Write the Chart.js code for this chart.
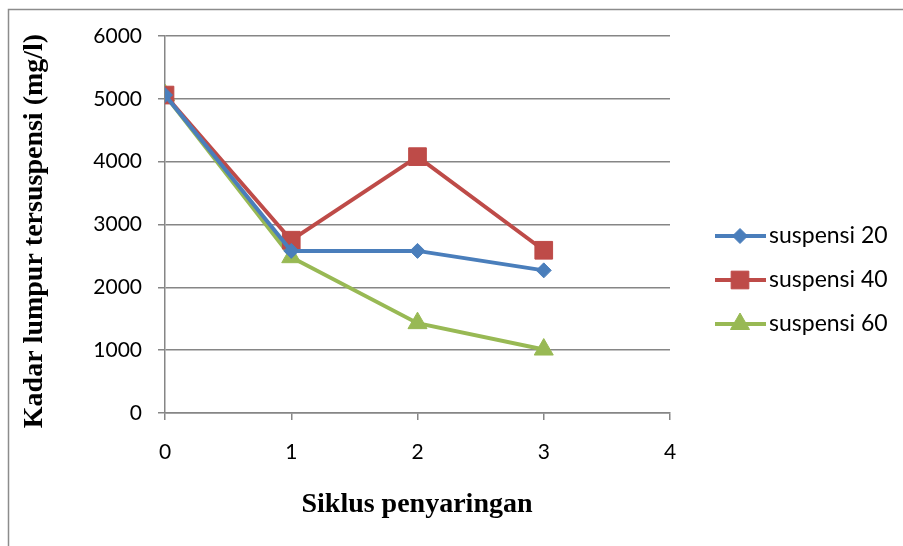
<!DOCTYPE html>
<html>
<head>
<meta charset="utf-8">
<script src="https://cdn.jsdelivr.net/npm/chart.js@4.4.1/dist/chart.umd.min.js"></script>
<style>
  html, body { margin: 0; padding: 0; background: #fff; }
  #wrap { width: 903px; height: 546px; position: relative; }
</style>
</head>
<body>
<div id="wrap"><canvas id="chart"></canvas></div>
<script>
// ===== data =====
const cycles = [0, 1, 2, 3];
const suspensi20 = [5060, 2580, 2580, 2270];
const suspensi40 = [5060, 2750, 4080, 2590];
const suspensi60 = [5060, 2480, 1430, 1010];
const seriesNames = ['suspensi 20', 'suspensi 40', 'suspensi 60'];
const yTicks = [0, 1000, 2000, 3000, 4000, 5000, 6000];
const xTicks = [0, 1, 2, 3, 4];

const colors = ['#4a7ebb', '#be4b48', '#98b954'];
const markers = ['rectRot', 'rect', 'triangle'];
const markerSize = [7.5, 12.5, 11];

function toPoints(vals) {
    return vals.map((v, i) => ({ x: cycles[i], y: v }));
}

const datasets = [suspensi20, suspensi40, suspensi60].map((vals, i) => ({
    label: seriesNames[i],
    data: toPoints(vals),
    borderColor: colors[i],
    backgroundColor: colors[i],
    borderWidth: 4,
    pointStyle: markers[i],
    pointRadius: markerSize[i],
    pointHoverRadius: markerSize[i],
    pointBorderWidth: 1,
    tension: 0
}));

/* ===== frame, axis titles, legend ===== */
const decor = {
    id: 'decor',
    afterDraw(chart) {
        const c = chart.ctx;
        c.save();
        c.strokeStyle = '#8c8c8c';
        c.lineWidth = 1.5;
        c.beginPath();
        c.moveTo(8.5, 560);
        c.lineTo(8.5, 9.5);
        c.lineTo(920, 9.5);
        c.stroke();

        c.fillStyle = '#000';
        c.font = 'bold 28px "Liberation Serif"';
        c.textAlign = 'center';
        c.textBaseline = 'alphabetic';
        c.fillText('Siklus penyaringan', 417, 512);

        c.textBaseline = 'middle';
        c.translate(35, 231);
        c.rotate(-Math.PI / 2);
        c.fillText('Kadar lumpur tersuspensi (mg/l)', 0, 0);
        c.restore();

        c.save();
        chart.data.datasets.forEach((ds, i) => {
            const y = 236 + i * 44;
            c.strokeStyle = ds.borderColor;
            c.fillStyle = ds.backgroundColor;
            c.lineWidth = 4;
            c.beginPath();
            c.moveTo(715, y);
            c.lineTo(766, y);
            c.stroke();
            c.lineWidth = 1;
            Chart.helpers.drawPoint(c, {
                pointStyle: ds.pointStyle,
                radius: ds.pointRadius,
                borderWidth: 1
            }, 740, y);
            c.fillStyle = '#000';
            c.font = '23px Lato';
            c.textAlign = 'left';
            c.textBaseline = 'middle';
            c.fillText(ds.label, 769, y);
        });
        c.restore();
    }
};

new Chart(document.getElementById('chart'), {
    type: 'line',
    data: { datasets },
    options: {
        responsive: true,
        maintainAspectRatio: false,
        animation: false,
        layout: { padding: { left: 10, right: 233, top: 36, bottom: 10 } },
        plugins: {
            legend: { display: false },
            tooltip: { enabled: false }
        },
        scales: {
            x: {
                type: 'linear',
                min: xTicks[0],
                max: xTicks[xTicks.length - 1],
                afterBuildTicks: (s) => { s.ticks = xTicks.map(v => ({ value: v })); },
                afterFit: (s) => { s.height = 546 - 413 - 10; },
                grid: { drawOnChartArea: false, color: '#868686', lineWidth: 1.5, tickLength: 7 },
                border: { color: '#868686', width: 1.5 },
                ticks: { color: '#000', font: { family: 'Lato', size: 21 }, padding: 20, callback: (v) => String(v) }
            },
            y: {
                min: yTicks[0],
                max: yTicks[yTicks.length - 1],
                afterBuildTicks: (s) => { s.ticks = yTicks.map(v => ({ value: v })); },
                afterFit: (s) => { s.width = 165 - 10; },
                grid: { color: '#868686', lineWidth: 1.5, tickLength: 7 },
                border: { color: '#868686', width: 1.5 },
                ticks: { color: '#000', font: { family: 'Lato', size: 21 }, padding: 16, callback: (v) => String(v) }
            }
        }
    },
    plugins: [decor]
});
</script>
</body>
</html>
